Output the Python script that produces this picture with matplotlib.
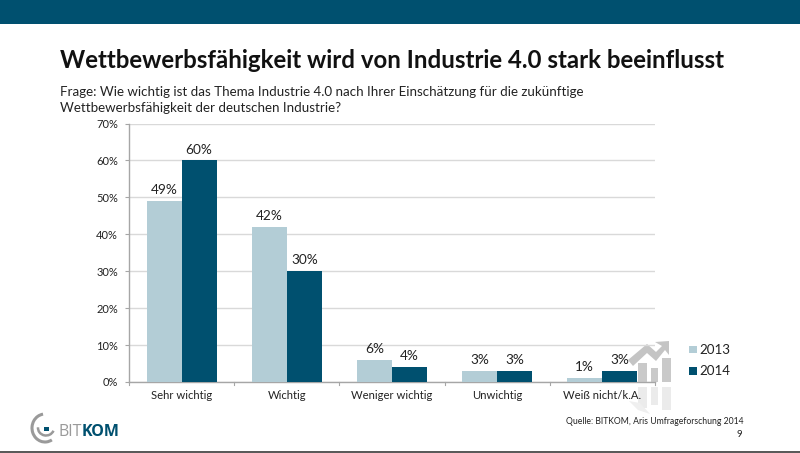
import matplotlib
matplotlib.use("Agg")
import matplotlib.pyplot as plt
import numpy as np
from matplotlib.patches import Rectangle, Polygon, Arc

categories = ["Sehr wichtig", "Wichtig", "Weniger wichtig", "Unwichtig", "Weiß nicht/k.A."]
values_2013 = [49, 42, 6, 3, 1]
values_2014 = [60, 30, 4, 3, 3]
labels_2013 = ["49%", "42%", "6%", "3%", "1%"]
labels_2014 = ["60%", "30%", "4%", "3%", "3%"]
y_ticks = [0, 10, 20, 30, 40, 50, 60, 70]

DARK = "#00506f"
LIGHT = "#b3cdd6"
GRID = "#d9d9d9"
AXIS = "#a6a6a6"
TEXT = "#222222"

plt.rcParams["font.family"] = ["Lato", "DejaVu Sans"]

W, H = 800, 453
fig = plt.figure(figsize=(W / 100, H / 100), dpi=100, facecolor="white")

# Full-figure overlay measured in pixels, top-left origin
bg = fig.add_axes([0, 0, 1, 1], zorder=0)
bg.set_xlim(0, W)
bg.set_ylim(H, 0)
bg.axis("off")
bg.add_patch(Rectangle((0, 0), W, 24, color=DARK, lw=0))
bg.add_patch(Rectangle((0, 450.5), W, 2.5, color="#5a5a5a", lw=0))

bg.text(60, 60.5, "Wettbewerbsfähigkeit wird von Industrie 4.0 stark beeinflusst",
        fontsize=17.3, fontweight="bold", color="#111111", va="center", ha="left")
bg.text(60, 92, "Frage: Wie wichtig ist das Thema Industrie 4.0 nach Ihrer Einschätzung für die zukünftige",
        fontsize=9.6, color=TEXT, va="center", ha="left")
bg.text(60, 108, "Wettbewerbsfähigkeit der deutschen Industrie?",
        fontsize=9.6, color=TEXT, va="center", ha="left")

# Plot area
left, right, top, bottom = 129, 655, 123.5, 382
ax = fig.add_axes([left / W, 1 - bottom / H, (right - left) / W, (bottom - top) / H], zorder=2)
ax.patch.set_alpha(0)
x = np.arange(len(categories))
bar_w = 1 / 3
bars_2013 = ax.bar(x - bar_w / 2, values_2013, bar_w, color=LIGHT, label="2013", zorder=3)
bars_2014 = ax.bar(x + bar_w / 2, values_2014, bar_w, color=DARK, label="2014", zorder=3)

ax.set_xlim(-0.5, len(categories) - 0.5)
ax.set_ylim(0, 70)
ax.set_yticks(y_ticks)
ax.set_yticklabels([f"{v}%" for v in y_ticks], fontsize=8, color=TEXT)
ax.set_xticks(x)
ax.set_xticklabels(categories, fontsize=8.1, color=TEXT)
ax.grid(axis="y", color=GRID, lw=1, zorder=0)
ax.set_axisbelow(True)
for side in ("top", "right"):
    ax.spines[side].set_visible(False)
for side in ("left", "bottom"):
    ax.spines[side].set_color(AXIS)
    ax.spines[side].set_linewidth(1)
ax.tick_params(axis="y", color=AXIS, length=3, pad=5)
ax.tick_params(axis="x", length=0, pad=6)
for edge in np.arange(len(categories) + 1) - 0.5:
    ax.plot([edge, edge], [0, -0.7], color=AXIS, lw=0.8, clip_on=False)

for bars, texts in ((bars_2013, labels_2013), (bars_2014, labels_2014)):
    for bar, txt in zip(bars, texts):
        ax.annotate(txt, (bar.get_x() + bar.get_width() / 2, bar.get_height()),
                    xytext=(0, 3.5), textcoords="offset points",
                    ha="center", va="bottom", fontsize=9.8, color=TEXT, zorder=5)

# Decorative rising-arrow icon with its fading reflection
for xa, xb, ya in ((638, 647, 363), (651, 658, 368), (662, 671, 358)):
    bg.add_patch(Rectangle((xa, ya), xb - xa, 382 - ya, color="#c9c9c9", lw=0, zorder=1))
    bg.add_patch(Rectangle((xa, 387), xb - xa, 410 - 387 - (ya - 358) / 2, color="#ebebeb", lw=0, zorder=1))
bg.add_patch(Polygon([(628, 360), (647, 344), (656, 352), (662, 346), (655, 342),
                      (669, 341), (669, 355), (665, 350), (656, 361), (647, 353), (633, 366)],
                     closed=True, color="#c4c4c4", lw=0, zorder=1))
bg.add_patch(Polygon([(629, 401), (638, 410), (650, 414), (640, 403)],
                     closed=True, color="#efefef", lw=0, zorder=1))

# Legend
for y, col, name in ((349.5, LIGHT, "2013"), (371, DARK, "2014")):
    bg.add_patch(Rectangle((689, y - 4), 7.5, 7.5, color=col, lw=0))
    bg.text(699, y, name, fontsize=9.6, color=TEXT, va="center", ha="left")

# Footer
bg.text(566, 421, "Quelle: BITKOM, Aris Umfrageforschung 2014", fontsize=6.25,
        color=TEXT, va="center", ha="left")
bg.text(742, 434.5, "9", fontsize=7, color=TEXT, va="center", ha="right")

# Company logo
bg.add_patch(Arc((45, 428), 26, 28, theta1=60, theta2=262, color="#9a9a9a", lw=2.2))
bg.add_patch(Arc((46, 428), 16, 15, theta1=20, theta2=185, color="#9a9a9a", lw=1.8))
bg.add_patch(Rectangle((44, 426.5), 5, 4.5, color=DARK, lw=0))
bg.text(58, 432, "BIT", fontsize=11.5, color="#9a9a9a", va="center", ha="left", family="Open Sans")
bg.text(82, 432, "KOM", fontsize=11.5, fontweight="bold", color=DARK, va="center", ha="left", family="Open Sans")

fig.savefig("out.png", dpi=100)
